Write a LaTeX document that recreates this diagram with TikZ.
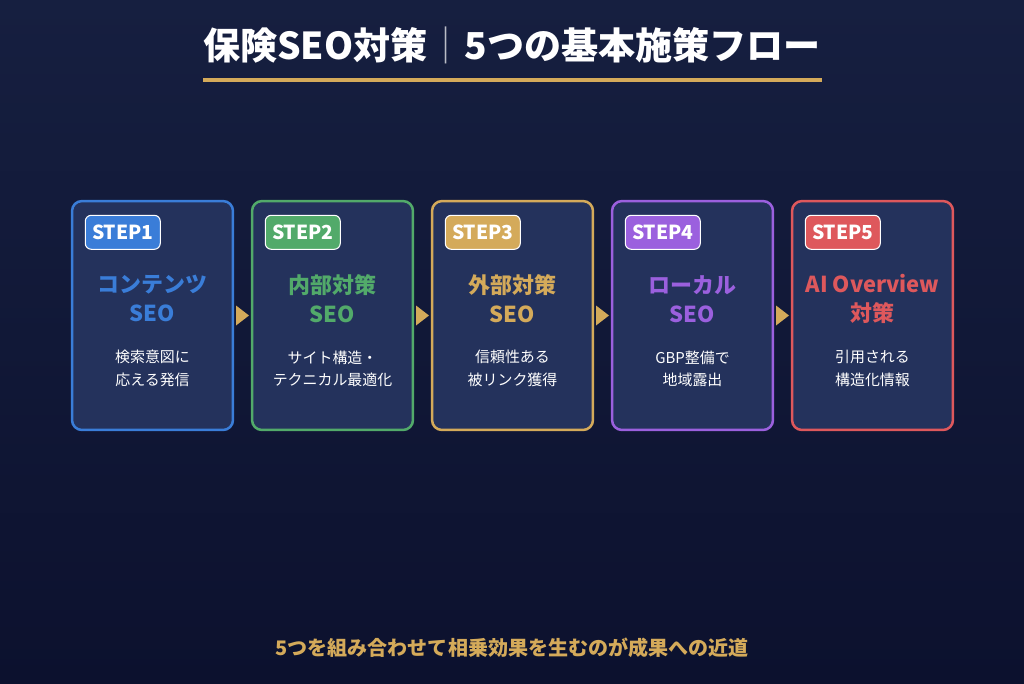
\documentclass[tikz,border=0pt]{standalone}
\usepackage{fontspec}
\setmainfont{Noto Sans CJK JP}
\usetikzlibrary{positioning, calc}

\definecolor{bgtop}{RGB}{22,31,64}
\definecolor{bgbot}{RGB}{12,17,46}
\definecolor{cardfill}{RGB}{36,50,92}
\definecolor{gold}{RGB}{212,170,90}
\definecolor{stepblue}{RGB}{58,125,216}
\definecolor{stepgreen}{RGB}{82,170,106}
\definecolor{steppurple}{RGB}{155,96,222}
\definecolor{stepred}{RGB}{222,88,92}

\tikzset{
  card/.style={draw=#1, fill=cardfill, line width=0.05cm, rounded corners=0.2cm,
    minimum width=3.22cm, minimum height=4.58cm},
  badge/.style={draw=white, fill=#1, line width=0.6pt, rounded corners=0.12cm,
    minimum width=1.5cm, minimum height=0.68cm, inner sep=0pt, anchor=north west,
    text=white, font=\bfseries\fontsize{11}{11}\selectfont},
  cardtitle/.style={text=#1, align=center, font=\bfseries\fontsize{12.5}{16.5}\selectfont},
  carddesc/.style={text=white, align=center, font=\fontsize{8.5}{13}\selectfont},
  flowtip/.style={fill=gold}
}

\begin{document}
\begin{tikzpicture}[x=0.02cm, y=-0.02cm]
        % Background
        \shade[top color=bgtop, bottom color=bgbot] (0,0) rectangle (1024,683);
        \useasboundingbox (0,0) rectangle (1024,683);

        % Title
        \node[text=white, font=\bfseries\fontsize{21.1}{23}\selectfont] (title) at (512,45)
            {保険SEO対策{\mdseries\color{white!70!bgtop}｜}5つの基本施策フロー};
        \draw[gold, line width=0.08cm] (203,80) -- (822,80);

        % Cards
        \node[card=stepblue]   (c1) at (152.5,315.5) {};
        \node[card=stepgreen]  (c2) at (332.5,315.5) {};
        \node[card=gold]       (c3) at (512.5,315.5) {};
        \node[card=steppurple] (c4) at (692.5,315.5) {};
        \node[card=stepred]    (c5) at (872.5,315.5) {};

        % Step badges
        \node[badge=stepblue]   (b1) at ([xshift=0.28cm, yshift=-0.3cm]c1.north west) {STEP1};
        \node[badge=stepgreen]  (b2) at ([xshift=0.28cm, yshift=-0.3cm]c2.north west) {STEP2};
        \node[badge=gold]       (b3) at ([xshift=0.28cm, yshift=-0.3cm]c3.north west) {STEP3};
        \node[badge=steppurple] (b4) at ([xshift=0.28cm, yshift=-0.3cm]c4.north west) {STEP4};
        \node[badge=stepred]    (b5) at ([xshift=0.28cm, yshift=-0.3cm]c5.north west) {STEP5};

        % Card titles
        \node[cardtitle=stepblue]   (t1) at ([yshift=-1.98cm]c1.north) {コンテンツ\\SEO};
        \node[cardtitle=stepgreen]  (t2) at ([yshift=-1.98cm]c2.north) {内部対策\\SEO};
        \node[cardtitle=gold]       (t3) at ([yshift=-1.98cm]c3.north) {外部対策\\SEO};
        \node[cardtitle=steppurple] (t4) at ([yshift=-1.98cm]c4.north) {ローカル\\SEO};
        \node[cardtitle=stepred]    (t5) at ([yshift=-1.98cm]c5.north) {AI Overview\\対策};

        % Card descriptions
        \node[carddesc] (d1) at ([yshift=-3.38cm]c1.north) {検索意図に\\応える発信};
        \node[carddesc] (d2) at ([yshift=-3.38cm]c2.north) {サイト構造・\\テクニカル最適化};
        \node[carddesc] (d3) at ([yshift=-3.38cm]c3.north) {信頼性ある\\被リンク獲得};
        \node[carddesc] (d4) at ([yshift=-3.38cm]c4.north) {GBP整備で\\地域露出};
        \node[carddesc] (d5) at ([yshift=-3.38cm]c5.north) {引用される\\構造化情報};

        % Flow arrows
        \fill[flowtip] ($(c1.east)!0.5!(c2.west)$) ++(-6.5,-10) -- ++(13,10) -- ++(-13,10) -- cycle;
        \fill[flowtip] ($(c2.east)!0.5!(c3.west)$) ++(-6.5,-10) -- ++(13,10) -- ++(-13,10) -- cycle;
        \fill[flowtip] ($(c3.east)!0.5!(c4.west)$) ++(-6.5,-10) -- ++(13,10) -- ++(-13,10) -- cycle;
        \fill[flowtip] ($(c4.east)!0.5!(c5.west)$) ++(-6.5,-10) -- ++(13,10) -- ++(-13,10) -- cycle;

        % Footer
        \node[text=gold, font=\bfseries\fontsize{11.4}{13}\selectfont] (foot) at (512,648)
            {5つを組み合わせて相乗効果を生むのが成果への近道};
    \end{tikzpicture}
\end{document}
